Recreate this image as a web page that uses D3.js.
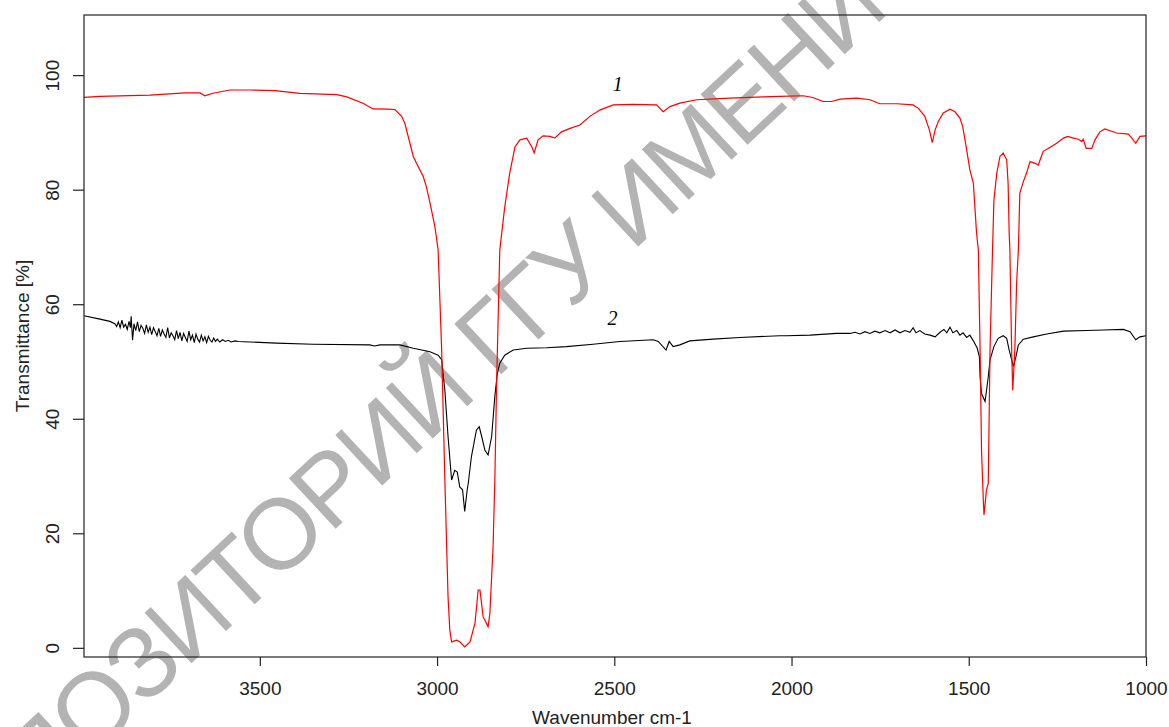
<!DOCTYPE html>
<html>
<head>
<meta charset="utf-8">
<script src="https://cdn.jsdelivr.net/npm/d3@7"></script>
<style>
  body { margin: 0; background: #fff; }
  svg { display: block; }
</style>
</head>
<body>
<svg width="1169" height="727"></svg>
<script>
// IR spectra, curve 1 (red) and curve 2 (black)

var redWn = [3996, 3951, 3810, 3712, 3669, 3655, 3635, 3585, 3528, 3458, 3387, 3283, 3255, 3209, 3181, 3139, 3119,
  3100, 3091, 3067, 3058, 3039, 3030, 3020, 3006, 2997, 2987, 2978, 2969, 2964, 2959, 2945, 2936, 2922, 2907,
  2893, 2884, 2879, 2870, 2856, 2851, 2842, 2837, 2832, 2823, 2809, 2795, 2780, 2766, 2747, 2733, 2726, 2715,
  2701, 2682, 2668, 2649, 2625, 2597, 2569, 2541, 2503, 2447, 2381, 2362, 2343, 2315, 2268, 2174, 2080, 2033,
  1967, 1940, 1911, 1887, 1863, 1816, 1779, 1751, 1703, 1657, 1642, 1624, 1611, 1603, 1595, 1586, 1572, 1553,
  1539, 1525, 1517, 1506, 1497, 1487, 1478, 1473, 1468, 1464, 1459, 1457, 1450, 1445, 1440, 1433, 1429, 1421,
  1412, 1403, 1393, 1389, 1386, 1384, 1379, 1376, 1370, 1365, 1360, 1356, 1346, 1337, 1327, 1313, 1304, 1290,
  1276, 1252, 1233, 1221, 1205, 1191, 1181, 1177, 1169, 1153, 1144, 1130, 1116, 1083, 1050, 1040, 1029, 1017, 1000];
var redT = [96.1, 96.3, 96.5, 96.9, 96.9, 96.4, 96.8, 97.4, 97.4, 97.3, 96.8, 96.6, 96.2, 95.1, 94.1, 94.05, 94.0,
  92.8, 91.6, 85.8, 84.6, 82.3, 80.5, 77.7, 73.5, 69.5, 52, 29.3, 8.9, 3.1, 1.05, 1.35, 1.05, 0.17, 1.05,
  4.3, 10.1, 10.1, 5.4, 3.7, 6.0, 17.6, 29.3, 46.2, 69.5, 77.0, 82.9, 87.5, 88.7, 89.0, 87.5, 86.4, 88.7,
  89.4, 89.3, 89.0, 90.1, 90.7, 91.3, 92.8, 93.9, 94.8, 94.9, 94.8, 93.6, 94.5, 95.1, 95.7, 96.0, 96.2, 96.3,
  96.4, 96.1, 95.4, 95.4, 95.8, 96.0, 95.7, 95.0, 95.0, 94.8, 94.2, 92.8, 90.4, 88.2, 90.4, 91.9, 93.4, 94.05,
  93.6, 92.5, 91.0, 87.0, 83.5, 81.1, 72.4, 69.5, 52, 34.5, 25.8, 23.2, 27.6, 28.7, 52, 69.5, 78.2, 82.9,
  85.8, 86.4, 85.2, 81.1, 72.4, 69.5, 52, 45.0, 52, 63.7, 69.5, 79.4, 81.4, 82.9, 84.9, 84.6, 84.3, 86.7,
  87.2, 88.1, 89.0, 89.3, 89.0, 88.8, 88.4, 88.8, 87.2, 87.2, 88.7, 90.1, 90.6, 89.9, 89.7, 89.0, 88.1, 89.3, 89.4];

var blackWn = [3996, 3951, 3923, 3909, 3904, 3899, 3894, 3889, 3884, 3879, 3874, 3869, 3865, 3863, 3859, 3855, 3850,
  3845, 3840, 3835, 3830, 3825, 3820, 3815, 3810, 3805, 3800, 3795, 3790, 3785, 3780, 3775, 3770, 3765, 3760,
  3755, 3750, 3745, 3740, 3735, 3730, 3725, 3720, 3715, 3710, 3705, 3700, 3695, 3690, 3685, 3680, 3675, 3670,
  3665, 3660, 3655, 3650, 3645, 3640, 3635, 3630, 3625, 3620, 3613, 3605, 3597, 3589, 3581, 3570, 3560, 3453,
  3350, 3190, 3176, 3161,
  3105, 3067, 3020, 2997, 2987, 2983, 2978, 2969, 2959, 2950, 2943, 2936, 2928, 2922, 2915, 2912, 2903, 2889,
  2881, 2874, 2865, 2856, 2846, 2837, 2830, 2823, 2809, 2785, 2747, 2691, 2635, 2560, 2484, 2390, 2376, 2354,
  2345, 2334, 2315, 2287, 2221, 2146, 2033, 2014, 1948, 1873, 1835, 1821, 1807, 1793, 1779, 1765, 1751, 1736,
  1722, 1708, 1694, 1680, 1666, 1657, 1649, 1638, 1624, 1609, 1595, 1581, 1570, 1562, 1553, 1545, 1534, 1525,
  1516, 1506, 1497, 1487, 1476, 1470, 1468, 1464, 1454, 1445, 1440, 1429, 1417, 1403, 1393, 1386, 1379, 1374,
  1367, 1360, 1346, 1318, 1280, 1233, 1167, 1120, 1064, 1045, 1029, 1017, 1000];
var blackT = [58.0, 57.4, 57.0, 56.6, 56.1, 56.9, 55.9, 57.2, 56.0, 56.5, 55.6, 57.0, 55.9, 57.9, 53.7, 56.6, 55.4,
  56.9, 55.2, 56.3, 55.8, 54.9, 56.4, 55.1, 56.0, 54.7, 55.9, 55.2, 54.5, 55.8, 54.4, 55.5, 54.8, 54.2, 55.9,
  54.1, 55.0, 54.5, 53.8, 55.4, 54.0, 55.1, 53.6, 54.9, 54.2, 53.5, 55.3, 53.8, 54.6, 53.3, 54.8, 53.9, 53.4,
  54.6, 53.6, 54.3, 53.3, 54.4, 53.7, 53.4, 54.1, 53.5, 53.9, 53.4, 53.8, 53.5, 53.7, 53.4, 53.6, 53.5, 53.2,
  53.0, 52.9, 52.7, 52.9,
  52.9, 52.3, 51.7, 51.1, 50.3, 47.9, 45.0, 36.9, 29.3, 31.0, 30.7, 28.1, 27.6, 23.8, 27.6, 28.7, 33.4, 38.0,
  38.6, 36.9, 34.5, 33.7, 36.9, 43.9, 47.9, 49.7, 51.1, 52.0, 52.3, 52.4, 52.6, 53.0, 53.5, 53.8, 53.5, 52.0,
  53.5, 52.6, 52.9, 53.6, 53.9, 54.2, 54.5, 54.5, 54.6, 54.9, 54.9, 55.1, 54.8, 55.2, 54.9, 55.3, 55.0, 55.4,
  55.0, 55.5, 55.0, 55.4, 55.1, 55.9, 55.0, 55.4, 54.8, 54.6, 54.3, 55.1, 55.6, 55.0, 56.0, 55.0, 55.4, 54.6,
  55.0, 54.2, 54.6, 53.6, 52.3, 50.8, 47.3, 44.4, 43.0, 47.3, 50.3, 52.6, 54.05, 54.5, 54.05, 52.0, 50.3, 49.1,
  50.8, 52.9, 53.9, 54.3, 54.8, 55.3, 55.4, 55.5, 55.6, 55.2, 53.8, 54.3, 54.5];

var xTicks = [3500, 3000, 2500, 2000, 1500, 1000];
var yTicks = [0, 20, 40, 60, 80, 100];

var curveLabels = [{text: "1", wn: 2490, t: 97.3}, {text: "2", wn: 2505, t: 56.4}];
var watermark = "РЕПОЗИТОРИЙ ГГУ ИМЕНИ Ф. СКОРИНЫ";

var svg = d3.select("svg"),
  margin = {top: 15, right: 23, bottom: 70, left: 84},
  width = +svg.attr("width") - margin.left - margin.right,
  height = +svg.attr("height") - margin.top - margin.bottom;

var x = d3.scaleLinear().domain([3996, 1000]).range([margin.left, margin.left + width]),
  y = d3.scaleLinear().domain([-1.6, 110.5]).range([margin.top + height, margin.top]);

var sans = "'Liberation Sans', Arial, sans-serif";

// watermark goes underneath everything
var wm = svg.append("text")
  .attr("font-family", sans)
  .attr("font-size", 100)
  .attr("letter-spacing", -3)
  .attr("fill", "#b3b3b3")
  .attr("dy", "0.35em")
  .text(watermark);
var gi = watermark.indexOf("Г");
var wnode = wm.node();
var off = wnode.getSubStringLength(0, gi) + wnode.getSubStringLength(gi, 1) / 2;
wm.attr("transform", "translate(490,337) rotate(-43) translate(" + (-off) + ",0)");

function series(wn, t) {
  return wn.map(function(d, i) { return [d, t[i]]; });
}

var line = d3.line()
  .x(function(d) { return x(d[0]); })
  .y(function(d) { return y(d[1]); });

svg.append("path")
  .datum(series(blackWn, blackT))
  .attr("fill", "none")
  .attr("stroke", "#000")
  .attr("stroke-width", 1.1)
  .attr("d", line);

svg.append("path")
  .datum(series(redWn, redT))
  .attr("fill", "none")
  .attr("stroke", "#ff0000")
  .attr("stroke-width", 1.2)
  .attr("d", line);

// box
svg.append("rect")
  .attr("x", margin.left)
  .attr("y", margin.top)
  .attr("width", width)
  .attr("height", height)
  .attr("fill", "none")
  .attr("stroke", "#222")
  .attr("stroke-width", 1.2);

// x axis
var gx = svg.append("g")
  .attr("transform", "translate(0," + (margin.top + height) + ")")
  .call(d3.axisBottom(x).tickValues(xTicks).tickSize(9).tickPadding(15.5).tickFormat(d3.format("d")));
gx.select(".domain").remove();
gx.selectAll("line").attr("stroke", "#222").attr("stroke-width", 1.2);
gx.selectAll("text").attr("font-family", sans).attr("font-size", 19).attr("fill", "#222");

// y axis, labels turned like R does
var gy = svg.append("g")
  .attr("transform", "translate(" + margin.left + ",0)")
  .call(d3.axisLeft(y).tickValues(yTicks).tickSize(11).tickFormat(d3.format("d")));
gy.select(".domain").remove();
gy.selectAll("line").attr("stroke", "#222").attr("stroke-width", 1.2);
gy.selectAll("text")
  .attr("font-family", sans)
  .attr("font-size", 19)
  .attr("fill", "#222")
  .attr("x", null)
  .attr("dy", null)
  .attr("text-anchor", "middle")
  .attr("transform", "translate(-25,0) rotate(-90)");

svg.append("text")
  .attr("font-family", sans)
  .attr("font-size", 19)
  .attr("fill", "#222")
  .attr("text-anchor", "middle")
  .attr("x", 612)
  .attr("y", 724)
  .text("Wavenumber cm-1");

svg.append("text")
  .attr("font-family", sans)
  .attr("font-size", 19)
  .attr("fill", "#222")
  .attr("text-anchor", "middle")
  .attr("transform", "translate(28.5," + (margin.top + height / 2) + ") rotate(-90)")
  .text("Transmittance [%]");

svg.selectAll(".clabel")
  .data(curveLabels)
  .enter().append("text")
  .attr("class", "clabel")
  .attr("font-family", "'Liberation Serif', 'Times New Roman', serif")
  .attr("font-style", "italic")
  .attr("font-size", 20)
  .attr("fill", "#000")
  .attr("text-anchor", "middle")
  .attr("x", function(d) { return x(d.wn); })
  .attr("y", function(d) { return y(d.t); })
  .text(function(d) { return d.text; });
</script>
</body>
</html>
